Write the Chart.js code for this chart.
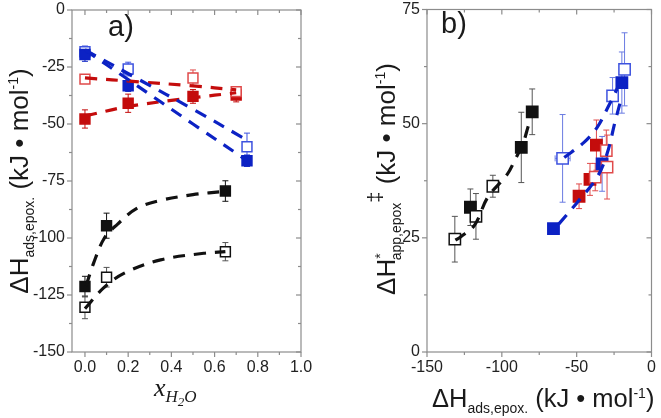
<!DOCTYPE html>
<html>
<head>
<meta charset="utf-8">
<script src="https://cdn.jsdelivr.net/npm/chart.js@4.4.1/dist/chart.umd.min.js"></script>
<style>
  body { margin: 0; background: #fff; }
  #wrap { position: relative; width: 661px; height: 418px; overflow: hidden; font-family: "Liberation Sans", Arial, sans-serif; color: #1a1a1a; }
  canvas { position: absolute; top: 0; }
  .txt { position: absolute; white-space: nowrap; font-size: 26px; line-height: 30px; height: 30px; }
  .rot { width: 300px; text-align: center; transform: rotate(-90deg); }
  .txt sub, .txt sup { font-size: 14px; line-height: 0; }
  .painel { font-size: 29px; line-height: 32px; position: absolute; }
</style>
</head>
<body>
<div id="wrap">
  <canvas id="ca" width="330" height="418" style="left:0"></canvas>
  <canvas id="cb" width="331" height="418" style="left:330px"></canvas>

  <div class="painel" style="left:108px;top:10px">a)</div>
  <div class="painel" style="left:441px;top:7px">b)</div>

  <div class="txt rot" style="left:-131px;top:166px">ΔH<sub>ads,epox.</sub> (kJ • mol<sup>-1</sup>)</div>
  <div class="txt" style="left:154px;top:373px;font-family:'Liberation Serif',serif;font-style:italic">x<sub style="font-size:17px">H<sub style="font-size:13px">2</sub>O</sub></div>

  <div class="txt rot" style="left:236px;top:164px">ΔH<sup>*</sup><sub style="margin-left:-7px">app,epox</sub><sup style="font-size:20px;position:relative;top:-3px">‡</sup> (kJ • mol<sup>-1</sup>)</div>
  <div class="txt" style="left:432px;top:383px;font-size:25.5px">ΔH<sub>ads,epox.</sub> (kJ • mol<sup>-1</sup>)</div>
</div>

<script>
// ---- painel a) : x_H2O vs ΔH_ads
const aXAzul = [0, 0.2, 0.75];
const aAzulCheio = [-19.5, -33.2, -66.1];
const aAzulCheioErr = [3, 2.5, 2.5];
const aAzulVazio = [-18.3, -25.9, -60];
const aAzulVazioErr = [2.5, 3, 6];

const aXVermVazio = [0, 0.5, 0.7];
const aVermVazio = [-30.3, -29.8, -35.8];
const aVermVazioErr = [1.5, 3.5, 2];
const aXVermCheio = [0, 0.2, 0.5, 0.7];
const aVermCheio = [-47.8, -40.9, -37.9, -37.3];
const aVermCheioErr = [4, 4, 3, 3];

const aXPreto = [0, 0.1, 0.65];
const aPretoCheio = [-121.3, -94.6, -79.4];
const aPretoCheioErr = [4.5, 5.5, 4.5];
const aPretoVazio = [-130.4, -117.2, -106];
const aPretoVazioErr = [5, 4.3, 4];

// curvas de ajuste
const aFitAzulVazioX = [0, 0.25, 0.5, 0.74];
const aFitAzulVazioY = [-17.5, -30.5, -43.5, -56.5];
const aFitAzulCheioX = [0, 0.2, 0.5, 0.75];
const aFitAzulCheioY = [-17.5, -30.5, -50, -66];
const aFitVermVazioX = [0, 0.25, 0.5, 0.7];
const aFitVermVazioY = [-29.8, -31.5, -33.3, -35];
const aFitVermCheioX = [0, 0.2, 0.5, 0.7];
const aFitVermCheioY = [-46.5, -42.3, -38.5, -36.3];
const aFitPretoCheioX = [0.005, 0.04, 0.09, 0.15, 0.24, 0.35, 0.5, 0.65];
const aFitPretoCheioY = [-121, -111, -100, -94, -87, -83.5, -81, -79.5];
const aFitPretoVazioX = [0, 0.085, 0.18, 0.35, 0.55, 0.65];
const aFitPretoVazioY = [-131, -122, -115.5, -109.6, -106.7, -106];

// ---- painel b) : ΔH_ads vs ΔH*app
const bPretoCheioX = [-121, -87, -79.7];
const bPretoCheioY = [31.7, 44.8, 52.6];
const bPretoCheioErrY = [4, 7.7, 5];
const bPretoVazioX = [-131.4, -117.3, -106];
const bPretoVazioY = [24.7, 29.7, 36.3];
const bPretoVazioErrY = [5, 5, 2.4];
const bAzulCheioX = [-65.5, -33, -19.8];
const bAzulCheioY = [27, 41.2, 59];
const bAzulCheioErrY = [1, 6, 6.7];
const bAzulVazioX = [-59.4, -26, -18];
const bAzulVazioY = [42.4, 56.1, 61.9];
const bAzulVazioErrY = [9.6, 4, 8];
const bAzulVazioErrX = [5, 2, 2];
const bVermCheioX = [-48.4, -41.1, -36.8];
const bVermCheioY = [34.1, 37.8, 45.3];
const bVermCheioErrY = [2.7, 3.5, 5.5];
const bVermVazioX = [-37.6, -30.2, -29.7];
const bVermVazioY = [38.3, 44.1, 40.5];
const bVermVazioErrY = [3, 4.5, 7];
const bErrXPadrao = [2.5, 2.5, 2.5];

const bFitPretoX = [-131, -127.6, -118.2, -109.4, -96.4, -90.9, -86, -82.5, -80.5];
const bFitPretoY = [24.5, 25.2, 27.8, 33.9, 38.9, 42.3, 45.5, 49.3, 51.5];
const bFitAzulCheioX = [-62, -49.5, -36.3, -29.7, -24.2, -19.8];
const bFitAzulCheioY = [28, 32.8, 38.3, 43.4, 50.6, 56];
const bFitAzulVazioX = [-58.3, -45.1, -36.3, -28.6, -22];
const bFitAzulVazioY = [42.6, 45.9, 49.2, 53.9, 58.3];

const COR = { azul: "#0c22c4", azulClaro: "#3d52df", azulErr: "#6a7be2", verm: "#c40c0c", vermClaro: "#e04a4a", preto: "#111", cinza: "#555" };
const FONTE = "'Liberation Sans', Arial, sans-serif";

const pts = (xs, ys) => xs.map((x, i) => ({ x, y: ys[i] }));

function marcas(xs, ys, cor, cheio, r, errY, errX, errCor) {
  return {
    data: pts(xs, ys), showLine: false, pointStyle: "rect", pointRadius: r, pointHoverRadius: r,
    backgroundColor: cheio ? cor : "#fff", borderColor: cor, borderWidth: 1.5,
    errY, errX, errCor: errCor || cor,
  };
}
function ajuste(xs, ys, cor) {
  return { data: pts(xs, ys), showLine: true, borderColor: cor, borderWidth: 3.2, borderDash: [12, 9], pointRadius: 0, tension: 0.35, fill: false };
}

// barras de erro, desenhadas atrás dos marcadores
const barrasErro = {
  id: "barrasErro",
  beforeDatasetsDraw(chart) {
    const { ctx, scales: { x, y } } = chart;
    const seg = (a, b, c, d) => { ctx.beginPath(); ctx.moveTo(a, b); ctx.lineTo(c, d); ctx.stroke(); };
    chart.data.datasets.forEach((ds) => {
      if (!ds.errY && !ds.errX) return;
      ctx.save();
      ctx.strokeStyle = ds.errCor; ctx.lineWidth = 1;
      ds.data.forEach((p, i) => {
        const px = x.getPixelForValue(p.x), py = y.getPixelForValue(p.y);
        const ey = ds.errY && ds.errY[i], ex = ds.errX && ds.errX[i];
        if (ey) {
          const t = y.getPixelForValue(p.y + ey), b = y.getPixelForValue(p.y - ey);
          seg(px, t, px, b); seg(px - 3, t, px + 3, t); seg(px - 3, b, px + 3, b);
        }
        if (ex) {
          const l = x.getPixelForValue(p.x - ex), r = x.getPixelForValue(p.x + ex);
          seg(l, py, r, py); seg(l, py - 3, l, py + 3); seg(r, py - 3, r, py + 3);
        }
      });
      ctx.restore();
    });
  },
};

// moldura cinza + ticks maiores/menores (fora em baixo/esquerda, dentro em cima/direita)
const moldura = {
  id: "moldura",
  afterDraw(chart) {
    const { ctx, chartArea: { left, right, top, bottom }, scales: { x, y } } = chart;
    const seg = (a, b, c, d) => { ctx.beginPath(); ctx.moveTo(a, b); ctx.lineTo(c, d); ctx.stroke(); };
    ctx.save();
    ctx.strokeStyle = "#8c8c8c"; ctx.lineWidth = 1.2;
    ctx.strokeRect(left, top, right - left, bottom - top);
    const marcar = (sc, fn) => {
      const v = sc.ticks.map((t) => t.value);
      v.forEach((t) => fn(sc.getPixelForValue(t), 5));
      for (let i = 0; i < v.length - 1; i++) fn(sc.getPixelForValue((v[i] + v[i + 1]) / 2), 3);
    };
    marcar(x, (p, l) => { seg(p, bottom, p, bottom + l); seg(p, top, p, top + l); });
    marcar(y, (p, l) => { seg(left - l, p, left, p); seg(right - l, p, right, p); });
    ctx.restore();
  },
};

function eixo(min, max, passo, tamanho, fmt, ehX) {
  return {
    type: "linear", min, max,
    grid: { display: false, drawTicks: false }, border: { display: false },
    ticks: { stepSize: passo, includeBounds: false, padding: ehX ? 6 : 7, color: "#222", font: { size: 16, family: FONTE }, callback: fmt },
    afterFit: (s) => {
      if (ehX) { s.height = tamanho; s.paddingLeft = 0; s.paddingRight = 0; }
      else { s.width = tamanho; s.paddingTop = 0; s.paddingBottom = 0; }
    },
  };
}

function grafico(id, datasets, xCfg, yCfg, padding) {
  return new Chart(document.getElementById(id), {
    type: "scatter",
    data: { datasets },
    options: {
      responsive: false, animation: false, layout: { padding },
      plugins: { legend: { display: false }, tooltip: { enabled: false } },
      scales: { x: xCfg, y: yCfg },
    },
    plugins: [barrasErro, moldura],
  });
}

// ---- painel a
grafico("ca", [
  ajuste(aFitAzulVazioX, aFitAzulVazioY, COR.azul),
  ajuste(aFitAzulCheioX, aFitAzulCheioY, COR.azul),
  ajuste(aFitVermVazioX, aFitVermVazioY, COR.verm),
  ajuste(aFitVermCheioX, aFitVermCheioY, COR.verm),
  ajuste(aFitPretoCheioX, aFitPretoCheioY, COR.preto),
  ajuste(aFitPretoVazioX, aFitPretoVazioY, COR.preto),
  marcas(aXAzul, aAzulCheio, COR.azul, true, 7, aAzulCheioErr),
  marcas(aXAzul, aAzulVazio, COR.azulClaro, false, 7, aAzulVazioErr),
  marcas(aXVermVazio, aVermVazio, COR.vermClaro, false, 7, aVermVazioErr),
  marcas(aXVermCheio, aVermCheio, COR.verm, true, 7, aVermCheioErr),
  marcas(aXPreto, aPretoCheio, COR.preto, true, 7, aPretoCheioErr),
  marcas(aXPreto, aPretoVazio, COR.preto, false, 7, aPretoVazioErr, null, COR.cinza),
],
  eixo(-0.06, 1.0, 0.2, 66, (v) => v.toFixed(1), true),
  eixo(-150, 0, 25, 72, (v) => String(v), false),
  { left: 0, right: 29, top: 10, bottom: 0 });

// ---- painel b
grafico("cb", [
  ajuste(bFitPretoX, bFitPretoY, COR.preto),
  ajuste(bFitAzulCheioX, bFitAzulCheioY, COR.azul),
  ajuste(bFitAzulVazioX, bFitAzulVazioY, COR.azul),
  marcas(bPretoVazioX, bPretoVazioY, COR.preto, false, 8, bPretoVazioErrY, bErrXPadrao, COR.cinza),
  marcas(bPretoCheioX, bPretoCheioY, COR.preto, true, 8, bPretoCheioErrY, bErrXPadrao, COR.cinza),
  marcas(bVermVazioX, bVermVazioY, COR.vermClaro, false, 8, bVermVazioErrY, bErrXPadrao),
  marcas(bVermCheioX, bVermCheioY, COR.verm, true, 8, bVermCheioErrY, bErrXPadrao, COR.vermClaro),
  marcas(bAzulCheioX, bAzulCheioY, COR.azul, true, 8, bAzulCheioErrY, bErrXPadrao, COR.azulErr),
  marcas(bAzulVazioX, bAzulVazioY, COR.azulClaro, false, 8, bAzulVazioErrY, bAzulVazioErrX, COR.azulErr),
],
  eixo(-150, 0, 50, 66, (v) => String(v), true),
  eixo(0, 75, 25, 97, (v) => String(v), false),
  { left: 0, right: 6, top: 8, bottom: 0 });
</script>
</body>
</html>
